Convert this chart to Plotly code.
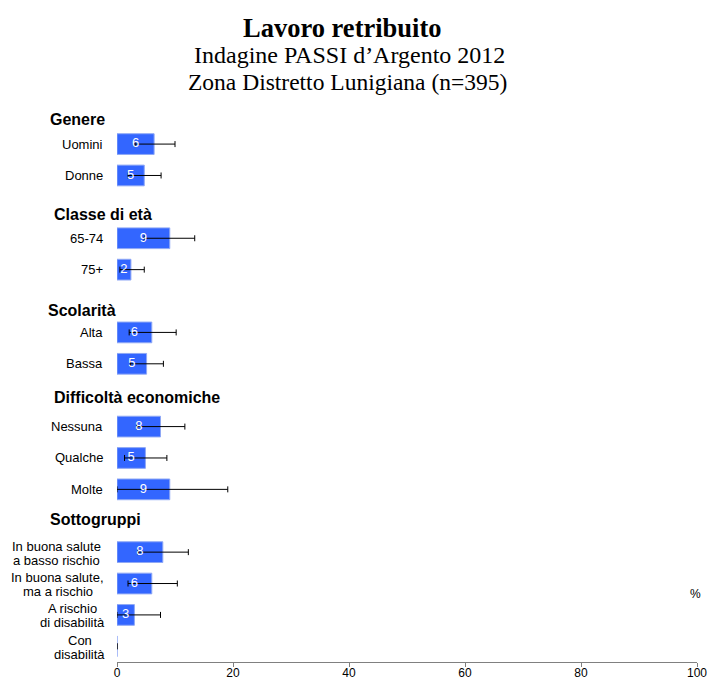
import plotly.graph_objects as go

# rows top to bottom; header rows have no bar
rows = ["Genere", "Uomini", "Donne",
        "Classe di età", "65-74", "75+",
        "Scolarità", "Alta", "Bassa",
        "Difficoltà economiche", "Nessuna", "Qualche", "Molte",
        "Sottogruppi", "In buona salute<br>a basso rischio",
        "In buona salute,<br>ma a rischio", "A rischio<br>di disabilità",
        "Con<br>disabilità"]
headers = ["Genere", "Classe di età", "Scolarità", "Difficoltà economiche", "Sottogruppi"]

# percent and 95% CI (None for header rows)
values = [None, 6.4, 4.7, None, 9.1, 2.4, None, 6.0, 5.1, None, 7.5, 4.9, 9.1,
          None, 7.9, 6.0, 3.0, 0.0]
ci_low = [None, 3.1, 1.9, None, 4.7, 0.5, None, 2.1, 2.3, None, 3.4, 1.3, 0.0,
          None, 3.6, 1.9, 0.0, 0.0]
ci_high = [None, 10.0, 7.6, None, 13.4, 4.7, None, 10.2, 8.0, None, 11.7, 8.6, 19.1,
           None, 12.3, 10.4, 7.5, 0.0]

err_plus = [None if v is None else h - v for v, h in zip(values, ci_high)]
err_minus = [None if v is None else v - l for v, l in zip(values, ci_low)]
labels = ["" if (v is None or v == 0) else f"{v:.0f}" for v in values]
label_x = [None if v is None else v / 2 for v in values]

sans = "Arial, Liberation Sans, sans-serif"
serif = "Times New Roman, Liberation Serif, serif"

fig = go.Figure()
fig.add_trace(go.Bar(
    x=values, y=rows, orientation="h",
    marker=dict(color="#3366ff", line=dict(color="#8fa8f5", width=1)),
    error_x=dict(type="data", symmetric=False, array=err_plus, arrayminus=err_minus,
                 color="black", thickness=1, width=3),
    hoverinfo="skip",
))
# value labels in the middle of the bars, drawn above the error bars
fig.add_trace(go.Scatter(
    x=label_x, y=rows, mode="text", text=labels,
    textfont=dict(family=sans, size=13, color="white"),
    hoverinfo="skip", cliponaxis=False,
))

PLOT_T, PLOT_B, PLOT_L, PLOT_R = 97, 20, 117, 15
ph = 682 - PLOT_T - PLOT_B
pw = 712 - PLOT_L - PLOT_R


def px_y(py):
    return (682 - PLOT_B - py) / ph


def px_x(px):
    return (px - PLOT_L) / pw


# centre x (pixels) of the two-line labels, their lines are centred
two_line_cx = {"In buona salute<br>a basso rischio": 56,
               "In buona salute,<br>ma a rischio": 57.5,
               "A rischio<br>di disabilità": 72,
               "Con<br>disabilità": 79.5}

ann = []
# category labels
for r in rows:
    if r in headers:
        continue
    if "<br>" in r:
        top, bottom = r.split("<br>")
        for line, shift in ((top, 6), (bottom, -8)):
            ann.append(dict(x=px_x(two_line_cx[r]), xref="paper", y=r, yref="y", yshift=shift,
                            text=line, showarrow=False, xanchor="center",
                            font=dict(family=sans, size=13, color="black")))
    else:
        ann.append(dict(x=0, xref="paper", y=r, yref="y", text=r, showarrow=False,
                        xanchor="right", xshift=-12,
                        font=dict(family=sans, size=13, color="black")))
# group headers
head_x = [47.7, 51.7, 45.7, 51.7, 47.7]
head_shift = [-7, -8, -9, -2, 1]
for h, hx, hs in zip(headers, head_x, head_shift):
    ann.append(dict(x=px_x(hx), xref="paper", y=h, yref="y", yshift=hs, text="<b>" + h + "</b>",
                    showarrow=False, xanchor="left",
                    font=dict(family=sans, size=16, color="black")))

# titles
ann.append(dict(x=px_x(342), xref="paper", y=px_y(28), yref="paper", text="<b>Lavoro retribuito</b>",
                showarrow=False, xanchor="center", yanchor="middle",
                font=dict(family=serif, size=26.5, color="black")))
ann.append(dict(x=px_x(349.5), xref="paper", y=px_y(55), yref="paper", text="Indagine PASSI d’Argento 2012",
                showarrow=False, xanchor="center", yanchor="middle",
                font=dict(family=serif, size=24, color="black")))
ann.append(dict(x=px_x(347.5), xref="paper", y=px_y(82), yref="paper", text="Zona Distretto Lunigiana (n=395)",
                showarrow=False, xanchor="center", yanchor="middle",
                font=dict(family=serif, size=23.5, color="black")))
ann.append(dict(x=px_x(695), xref="paper", y=px_y(594), yref="paper", text="%",
                showarrow=False, xanchor="center", yanchor="middle",
                font=dict(family=sans, size=12, color="black")))

fig.update_layout(
    width=712, height=682,
    margin=dict(l=PLOT_L, r=PLOT_R, t=PLOT_T, b=PLOT_B, autoexpand=False),
    paper_bgcolor="white", plot_bgcolor="white",
    showlegend=False, bargap=0.34,
    annotations=ann,
    xaxis=dict(range=[0, 100], dtick=20, ticks="outside", ticklen=4, tickcolor="#808080",
               showline=True, linecolor="#808080", linewidth=1, showgrid=False, zeroline=False,
               automargin=False, ticklabelstandoff=-4,
               tickfont=dict(family=sans, size=12, color="black")),
    yaxis=dict(type="category", categoryorder="array", categoryarray=rows,
               range=[len(rows) - 0.5, -0.5], autorange=False,
               showticklabels=False, ticks="", showline=False, showgrid=False, zeroline=False,
               automargin=False),
)

# page fits the window exactly: no body margin, no gap under the svg
page_js = ("document.body.style.margin='0';"
           "document.body.style.overflow='hidden';"
           "document.documentElement.style.overflow='hidden';"
           "document.querySelectorAll('.plotly-graph-div').forEach(function(d){d.style.overflow='hidden';});")
fig.write_html("out.html", config={"displayModeBar": False}, post_script=page_js)
